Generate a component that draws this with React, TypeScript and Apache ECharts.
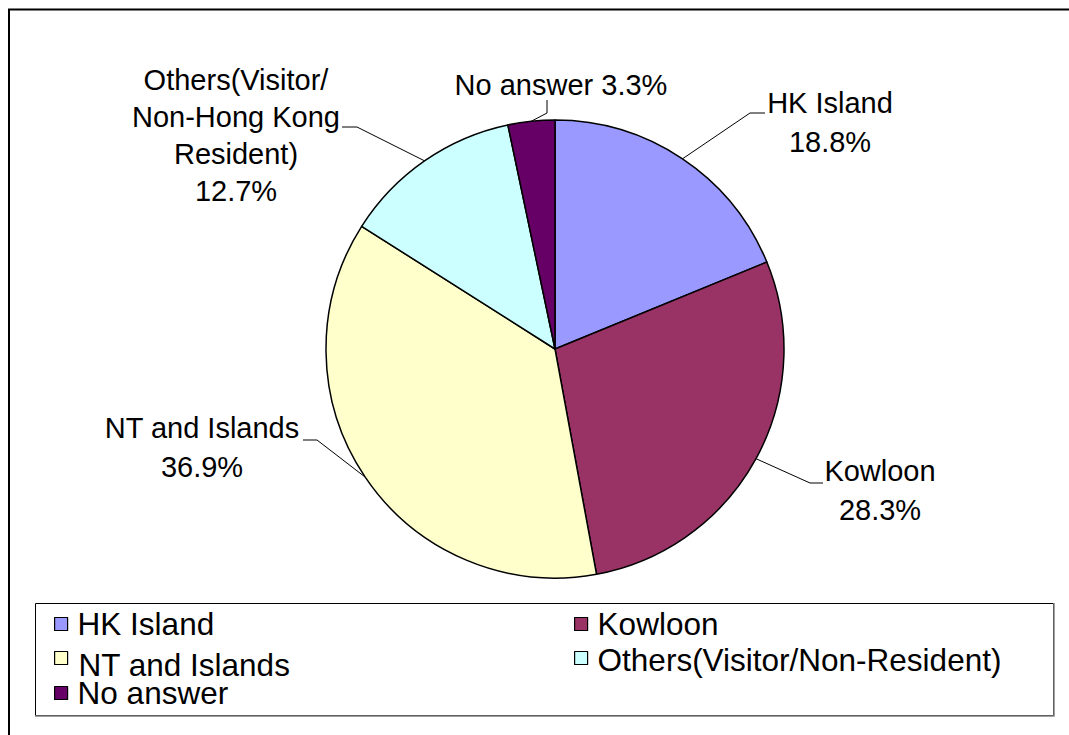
import React, { useEffect, useRef } from "react";
import * as echarts from "echarts";

const categories = [
  "HK Island",
  "Kowloon",
  "NT and Islands",
  "Others(Visitor/Non-Resident)",
  "No answer",
];
const values = [18.8, 28.3, 36.9, 12.7, 3.3];
const labelNames = [
  "HK Island",
  "Kowloon",
  "NT and Islands",
  "Others(Visitor/\nNon-Hong Kong\nResident)",
  "No answer",
];
const labelSeparators = ["\n", "\n", "\n", "\n", " "];
const colors = ["#9999FF", "#993366", "#FFFFCC", "#CCFFFF", "#660066"];

// label placement (styling only): label centre, and leader bend/end points
const labelLayouts = [
  { x: 830, y: 122, pts: [[750, 113], [765, 113]] },
  { x: 880, y: 490, pts: [[810, 483], [823, 483]] },
  { x: 202, y: 447, pts: [[317, 440], [303, 440]] },
  { x: 236, y: 135, pts: [[357, 127], [342, 127]] },
  { x: 561, y: 85, pts: [[547, 113], [547, 100]] },
];

const legendPlaces = [
  { left: 54, top: 608, pad: [0, 0, 0, 5] },
  { left: 574, top: 608, pad: [0, 0, 0, 5] },
  { left: 54, top: 635, pad: [14, 0, 0, 6] },
  { left: 574, top: 640, pad: [4, 0, 0, 5] },
  { left: 54, top: 677, pad: [0, 0, 0, 5] },
];

const FONT = "'Liberation Sans', Arial, sans-serif";

export default function App() {
  const ref = useRef<HTMLDivElement>(null);
  useEffect(() => {
    if (!ref.current) return;
    const chart = echarts.init(ref.current, null, { renderer: "svg" });
    const cx = 555;
    const cy = 349;
    const r = 229;
    const data = categories.map((name, i) => ({
      name,
      value: values[i],
      itemStyle: { color: colors[i] },
      label: i === 3 ? { lineHeight: 37 } : {},
    }));
    const option: any = {
      animation: false,
      backgroundColor: "#ffffff",
      legend: categories.map((name, i) => ({
        data: [{ name, icon: "rect" }],
        left: legendPlaces[i].left,
        top: legendPlaces[i].top,
        padding: 0,
        itemWidth: 13,
        itemHeight: 13,
        selectedMode: false,
        itemStyle: { borderColor: "#000", borderWidth: 1.2 },
        formatter: "{n|{name}}",
        textStyle: {
          fontFamily: FONT,
          fontSize: 31.5,
          color: "#000",
          rich: {
            n: {
              fontFamily: FONT,
              fontSize: 31.5,
              lineHeight: 32,
              color: "#000",
              padding: legendPlaces[i].pad,
            },
          },
        },
      })),
      graphic: [
        {
          type: "rect",
          shape: { x: 9, y: 9.5, width: 1300, height: 1000 },
          style: { fill: "none", stroke: "#000", lineWidth: 2 },
          silent: true,
        },
        {
          type: "rect",
          shape: { x: 35.5, y: 603.5, width: 1018, height: 112 },
          style: { fill: "none", stroke: "#000", lineWidth: 1 },
          silent: true,
        },
        {
          type: "polyline",
          shape: { points: [[1054, 603], [1054, 716], [35, 716]] },
          style: { fill: "none", stroke: "#808080", lineWidth: 1.5 },
          silent: true,
        },
      ],
      series: [
        {
          type: "pie",
          center: [cx, cy],
          radius: r,
          startAngle: 90,
          clockwise: true,
          data,
          itemStyle: { borderColor: "#000", borderWidth: 1.5 },
          emphasis: { disabled: true },
          label: {
            show: true,
            position: "outside",
            fontFamily: FONT,
            fontSize: 29,
            lineHeight: 39,
            color: "#000",
            align: "center",
            formatter: (p: any) =>
              `${labelNames[p.dataIndex]}${labelSeparators[p.dataIndex]}${values[
                p.dataIndex
              ].toFixed(1)}%`,
          },
          labelLine: {
            show: true,
            smooth: false,
            length: 20,
            length2: 15,
            lineStyle: { color: "#000", width: 1 },
          },
          labelLayout: (params: any) => {
            const i = params.dataIndex;
            const lay = labelLayouts[i];
            let start: number[];
            if (params.labelLinePoints && params.labelLinePoints[0]) {
              start = params.labelLinePoints[0];
            } else {
              let acc = 0;
              for (let k = 0; k < i; k++) acc += values[k];
              const total = values.reduce((a, b) => a + b, 0);
              const ang = ((acc + values[i] / 2) / total) * Math.PI * 2;
              start = [cx + r * Math.sin(ang), cy - r * Math.cos(ang)];
            }
            return {
              x: lay.x,
              y: lay.y,
              align: "center",
              verticalAlign: "middle",
              labelLinePoints: [start, lay.pts[0], lay.pts[1]],
            };
          },
        },
      ],
    };
    chart.setOption(option);
    return () => chart.dispose();
  }, []);
  return (
    <div
      ref={ref}
      style={{
        position: "absolute",
        left: 0,
        top: 0,
        width: 1069,
        height: 735,
        overflow: "hidden",
      }}
    />
  );
}
